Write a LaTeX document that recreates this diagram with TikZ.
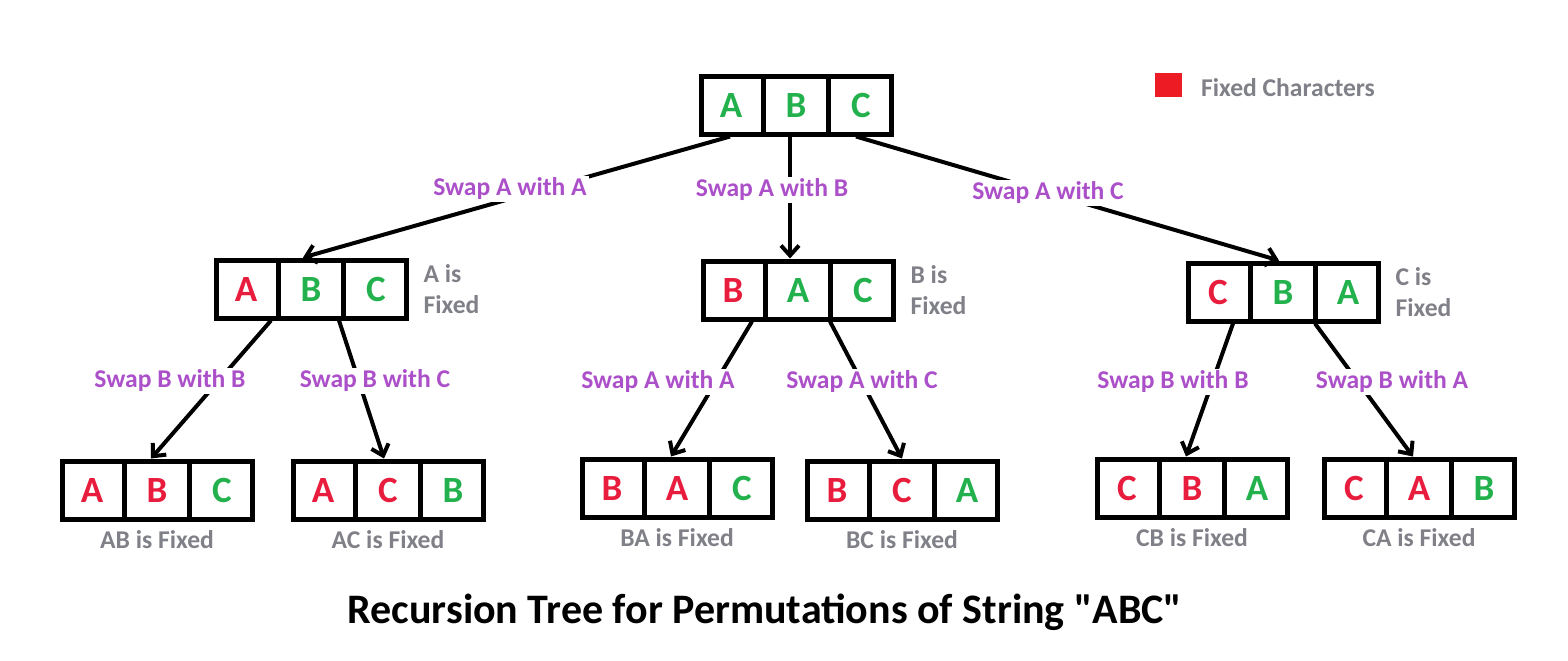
\documentclass[tikz,border=0pt]{standalone}
\usepackage{fontspec}
\setmainfont{Carlito}[Ligatures=TeXOff]
\usetikzlibrary{positioning,shapes.multipart,arrows.meta}

\definecolor{fixred}{RGB}{232,28,60}
\definecolor{keyred}{RGB}{237,28,36}
\definecolor{freegreen}{RGB}{34,177,76}
\definecolor{swappurple}{RGB}{172,80,202}
\definecolor{notegray}{RGB}{128,128,136}

\newcommand{\fixc}[1]{\makebox[18pt]{\color{fixred}#1}}
\newcommand{\freec}[1]{\makebox[18pt]{\color{freegreen}#1}}

\begin{document}
\begin{tikzpicture}[x=0.5pt,y=-0.5pt,
  perm/.style={rectangle split, rectangle split horizontal, rectangle split parts=3, draw, line width=2.5pt, inner xsep=6pt, minimum height=29pt, font=\bfseries\fontsize{18.5}{18.5}\selectfont},
  conn/.style={line width=2pt, -{Straight Barb[length=5pt,width=9pt]}},
  swaplbl/.style={fill=white, inner sep=1pt, text=swappurple, font=\bfseries\fontsize{12.8}{14}\selectfont},
  fixlbl/.style={text=notegray, font=\bfseries\fontsize{12.8}{15.5}\selectfont, align=left}]
\useasboundingbox (0,0) rectangle (1568,660);

% legend
\node[fill=keyred, minimum width=13.5pt, minimum height=12pt, inner sep=0pt] (key) at (1168,85) {};
\node[fixlbl, anchor=west] (keytext) at (1194,88) {Fixed Characters};

% root and first level
\node[perm] (root) at (796,105) {\freec{A}\nodepart{two}\freec{B}\nodepart{three}\freec{C}};
\node[perm] (al) at (311,289) {\fixc{A}\nodepart{two}\freec{B}\nodepart{three}\freec{C}};
\node[perm] (bl) at (798,290) {\fixc{B}\nodepart{two}\freec{A}\nodepart{three}\freec{C}};
\node[perm] (cl) at (1283,292) {\fixc{C}\nodepart{two}\freec{B}\nodepart{three}\freec{A}};
\node[fixlbl, right=4pt of al] (alnote) {A is\\Fixed};
\node[fixlbl, right=4pt of bl] (blnote) {B is\\Fixed};
\node[fixlbl, right=4pt of cl] (clnote) {C is\\Fixed};

% second level
\node[perm] (abl) at (157,490) {\fixc{A}\nodepart{two}\fixc{B}\nodepart{three}\freec{C}};
\node[perm] (acl) at (388,490) {\fixc{A}\nodepart{two}\fixc{C}\nodepart{three}\freec{B}};
\node[perm] (bal) at (677,488) {\fixc{B}\nodepart{two}\fixc{A}\nodepart{three}\freec{C}};
\node[perm] (bcl) at (902,490) {\fixc{B}\nodepart{two}\fixc{C}\nodepart{three}\freec{A}};
\node[perm] (cbl) at (1192,488) {\fixc{C}\nodepart{two}\fixc{B}\nodepart{three}\freec{A}};
\node[perm] (cal) at (1419,488) {\fixc{C}\nodepart{two}\fixc{A}\nodepart{three}\freec{B}};
\node[fixlbl, below=1pt of abl] (abnote) {AB is Fixed};
\node[fixlbl, below=1pt of acl] (acnote) {AC is Fixed};
\node[fixlbl, below=1pt of bal] (banote) {BA is Fixed};
\node[fixlbl, below=1pt of bcl] (bcnote) {BC is Fixed};
\node[fixlbl, below=1pt of cbl] (cbnote) {CB is Fixed};
\node[fixlbl, below=1pt of cal] (canote) {CA is Fixed};

\draw[conn] ([xshift=-33pt]root.south) -- ([xshift=-4pt]al.north);
\draw[conn] ([xshift=-3pt]root.south) -- ([xshift=-4pt]bl.north);
\draw[conn] ([xshift=30pt]root.south) -- ([xshift=-2pt]cl.north);
\draw[conn] ([xshift=-20pt]al.south) -- ([xshift=-3pt]abl.north);
\draw[conn] ([xshift=14pt]al.south) -- ([xshift=-2pt]acl.north);
\draw[conn] ([xshift=-23pt]bl.south) -- ([xshift=-3pt]bal.north);
\draw[conn] ([xshift=16pt]bl.south) -- (bcl.north);
\draw[conn] ([xshift=-25pt]cl.south) -- ([xshift=-3pt]cbl.north);
\draw[conn] ([xshift=16pt]cl.south) -- ([xshift=-3pt]cal.north);

\node[swaplbl] (s1) at (510,189) {Swap A with A};
\node[swaplbl] (s2) at (772,190) {Swap A with B};
\node[swaplbl] (s3) at (1048,193) {Swap A with C};
\node[swaplbl] (s4) at (170,381) {Swap B with B};
\node[swaplbl] (s5) at (375,381) {Swap B with C};
\node[swaplbl] (s6) at (658,382) {Swap A with A};
\node[swaplbl] (s7) at (862,382) {Swap A with C};
\node[swaplbl] (s8) at (1173,382) {Swap B with B};
\node[swaplbl] (s9) at (1392,382) {Swap B with A};

\node[font=\bfseries\fontsize{21}{25}\selectfont] (title) at (765,612) {Recursion Tree for Permutations of String "ABC"};
\end{tikzpicture}
\end{document}
